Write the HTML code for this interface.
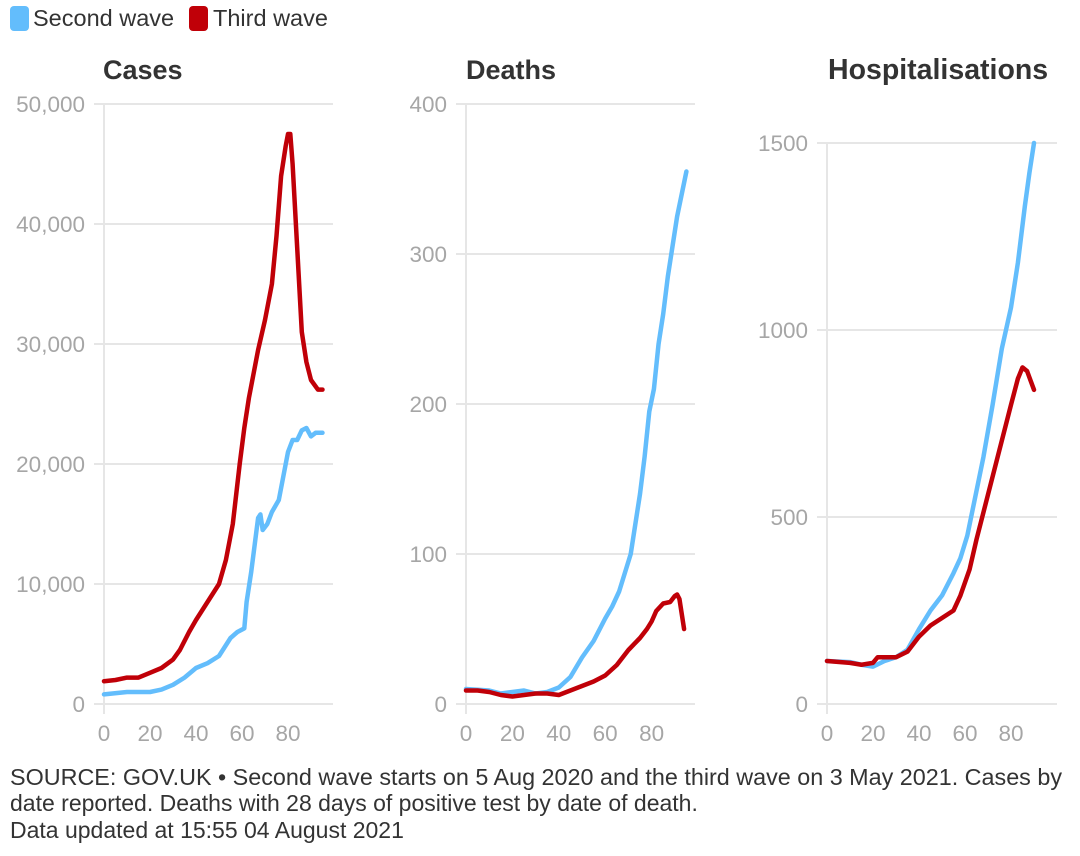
<!DOCTYPE html>
<html><head><meta charset="utf-8"><style>
body{margin:0;background:#fff;font-family:"Liberation Sans",sans-serif;}
svg{display:block}
</style></head><body>
<svg id="c" width="1080" height="856">
<g>
<rect x="10" y="6" width="19" height="25" rx="4" fill="#63bdfc"/>
<text x="33" y="26" font-size="23.5" fill="#333">Second wave</text>
<rect x="189" y="6" width="19" height="25" rx="4" fill="#c00008"/>
<text x="213" y="26" font-size="23.5" fill="#333">Third wave</text>
</g>
<g font-size="23" fill="#333">
<text x="10" y="785" textLength="1052" lengthAdjust="spacingAndGlyphs">SOURCE: GOV.UK • Second wave starts on 5 Aug 2020 and the third wave on 3 May 2021. Cases by</text>
<text x="10" y="811">date reported. Deaths with 28 days of positive test by date of death.</text>
<text x="10" y="838">Data updated at 15:55 04 August 2021</text>
</g>
</svg>
<script>
const xTicks=[0,20,40,60,80];
const casesYTicks=[0,10000,20000,30000,40000,50000];
const casesSecondDays=[0,10,20,25,30,35,40,45,50,55,58,61,62,64,66,67,68,69,71,73,76,78,80,82,84,86,88,90,92,95];
const casesSecond=[800,1000,1000,1200,1600,2200,3000,3400,4000,5500,6000,6300,8500,11000,14000,15500,15800,14500,15000,16000,17000,19000,21000,22000,22000,22800,23000,22300,22600,22600];
const casesThirdDays=[0,5,10,15,20,25,30,33,37,40,45,50,53,56,59,61,63,65,67,70,73,75,77,79,80,81,82,84,86,88,90,93,95];
const casesThird=[1900,2000,2200,2200,2600,3000,3700,4500,6000,7000,8500,10000,12000,15000,20000,23000,25500,27500,29500,32000,35000,39000,44000,46500,47500,47500,45000,38000,31000,28500,27000,26200,26200];
const deathsYTicks=[0,100,200,300,400];
const deathsSecondDays=[0,10,15,20,25,30,35,40,45,50,55,60,63,66,69,71,73,75,77,79,81,83,85,87,89,91,93,95];
const deathsSecond=[10,9,7,8,9,7,8,11,18,31,42,57,65,75,90,100,120,140,165,195,210,240,260,285,305,325,340,355];
const deathsThirdDays=[0,5,10,15,20,25,30,35,40,45,50,55,60,65,70,75,78,80,82,85,88,90,91,92,94];
const deathsThird=[9,9,8,6,5,6,7,7,6,9,12,15,19,26,36,44,50,55,62,67,68,72,73,70,50];
const hospYTicks=[0,500,1000,1500];
const hospSecondDays=[0,10,15,20,25,30,35,40,45,50,55,58,61,64,68,72,76,80,83,86,88,90];
const hospSecond=[115,112,105,100,115,125,145,200,250,290,350,390,450,540,660,800,950,1060,1180,1330,1420,1500];
const hospThirdDays=[0,10,15,20,22,30,35,40,45,50,55,58,62,65,70,75,80,83,85,87,90];
const hospThird=[115,110,105,110,125,125,140,180,210,230,250,290,360,440,560,680,800,870,900,890,840];

const NS="http://www.w3.org/2000/svg";
const svg=document.getElementById('c');
function mk(tag,attrs,parent){const e=document.createElementNS(NS,tag);for(const k in attrs)e.setAttribute(k,attrs[k]);(parent||svg).appendChild(e);return e;}
function panel(name,title,titleX,x0,pxDay,gridEnd,yMax,yTop,yTicks,sd,sv,td,tv,comma){
  const g=mk('g',{});
  
  
  const X=d=>x0+d*pxDay;
  const Y=v=>704-(v/yMax)*(704-yTop);
  const t=mk('text',{x:titleX,y:79,'font-size':title.length>10?28.5:27,'font-weight':'bold',fill:'#333'},g);
  t.textContent=title;
  
  
  yTicks.forEach(v=>{
    const l=mk('line',{x1:x0-10,x2:gridEnd,y1:Y(v),y2:Y(v),stroke:'#e6e6e6','stroke-width':2},g);
    
    
    const tx=mk('text',{x:x0-19,y:Y(v)+8,'font-size':22.5,fill:'#a6a6a6','text-anchor':'end'},g);
    tx.textContent=comma?v.toLocaleString('en-US'):String(v);
    
    
  });
  const ax=mk('line',{x1:x0,x2:x0,y1:yTop,y2:714,stroke:'#e6e6e6','stroke-width':2},g);
  
  
  xTicks.forEach(d=>{
    const tx=mk('text',{x:X(d),y:741,'font-size':22.5,fill:'#a6a6a6','text-anchor':'middle'},g);
    tx.textContent=d;
    
    
  });
  function line(days,vals,col,n){
    const p=mk('polyline',{points:days.map((d,i)=>X(d)+','+Y(vals[i])).join(' '),fill:'none',stroke:col,'stroke-width':4.5,'stroke-linejoin':'round','stroke-linecap':'round'},g);
    
    
  }
  line(sd,sv,'#63bdfc','second-wave');
  line(td,tv,'#c00008','third-wave');
}
panel('cases','Cases',103,104,2.3,333,50000,104,casesYTicks,casesSecondDays,casesSecond,casesThirdDays,casesThird,true);
panel('deaths','Deaths',466,466,2.32,695,400,104,deathsYTicks,deathsSecondDays,deathsSecond,deathsThirdDays,deathsThird,false);
panel('hosp','Hospitalisations',828,827,2.3,1057,1500,143,hospYTicks,hospSecondDays,hospSecond,hospThirdDays,hospThird,false);
</script>
</body></html>
